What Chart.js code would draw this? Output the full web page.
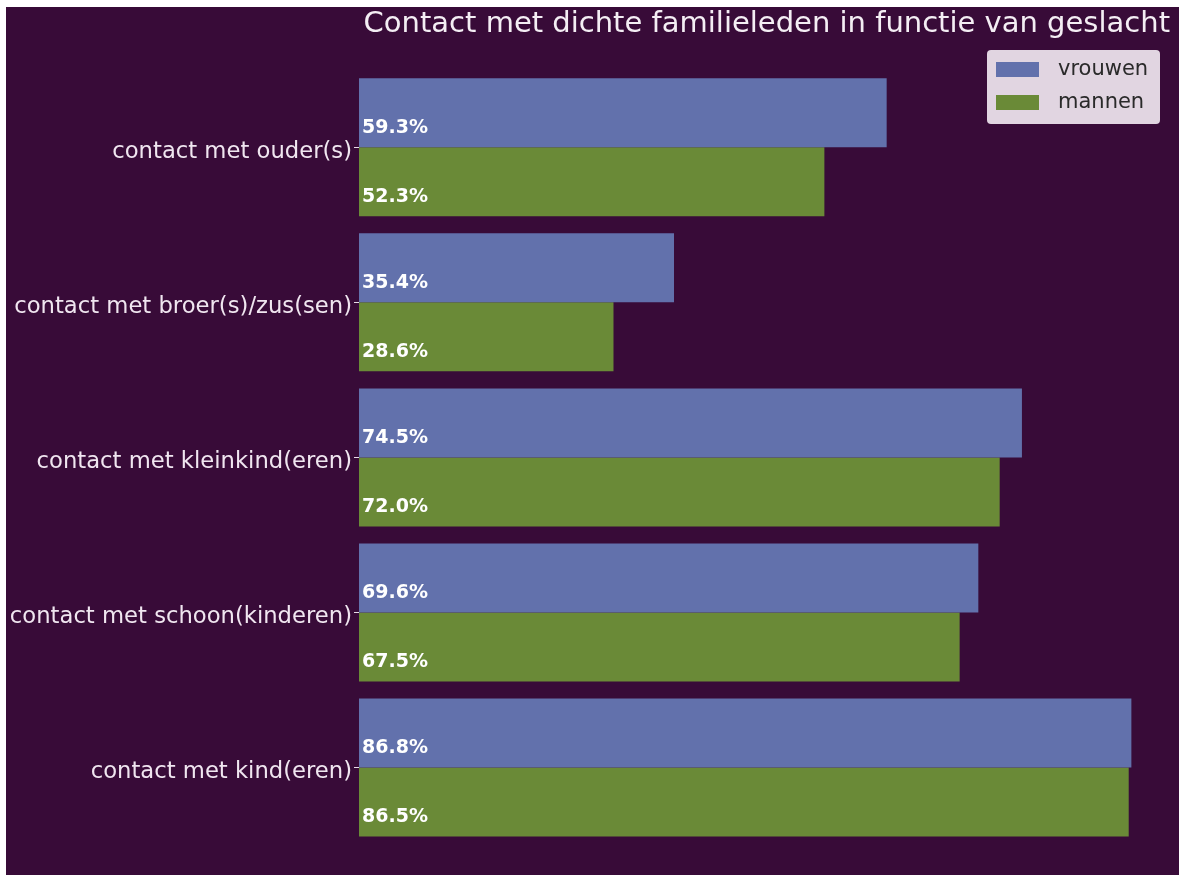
<!DOCTYPE html>
<html>
<head>
<meta charset="utf-8">
<script src="https://cdn.jsdelivr.net/npm/chart.js@4.4.1/dist/chart.umd.min.js"></script>
<style>
    html, body { margin: 0; padding: 0; background: #ffffff; }
    #wrap { position: absolute; left: 6px; top: 7px; width: 1173px; height: 868px; background: rgb(56, 11, 56); }
</style>
</head>
<body>
<div id="wrap"><canvas id="chart" width="1173" height="868"></canvas></div>
<script>
const categories = [
    'contact met ouder(s)',
    'contact met broer(s)/zus(sen)',
    'contact met kleinkind(eren)',
    'contact met schoon(kinderen)',
    'contact met kind(eren)'
];
const seriesNames = ['vrouwen', 'mannen'];
const vrouwen = [59.3, 35.4, 74.5, 69.6, 86.8];
const mannen = [52.3, 28.6, 72.0, 67.5, 86.5];
const seriesColors = ['rgb(98, 113, 172)', 'rgb(106, 138, 55)'];

const FONT = "'DejaVu Sans', sans-serif";

// percentages written at the left end of each bar
const valueLabels = {
    id: 'valueLabels',
    afterDatasetsDraw(chart)
    {
        const ctx = chart.ctx;
        ctx.save();
        ctx.font = 'bold 19px ' + FONT;
        ctx.fillStyle = '#ffffff';
        ctx.textAlign = 'left';
        ctx.textBaseline = 'middle';
        chart.data.datasets.forEach((ds, i) =>
        {
            chart.getDatasetMeta(i).data.forEach((bar, j) =>
            {
                ctx.fillText(ds.data[j].toFixed(1) + '%', bar.base + 3, bar.y + 15);
            });
        });
        ctx.restore();
    }
};

// matplotlib style legend box in the upper right corner
const boxLegend = {
    id: 'boxLegend',
    afterDraw(chart)
    {
        const ctx = chart.ctx;
        const x = 981, y = 43, w = 173, h = 74;
        ctx.save();
        ctx.fillStyle = 'rgba(232, 222, 232, 0.96)';
        ctx.beginPath();
        ctx.roundRect(x, y, w, h, 4);
        ctx.fill();
        ctx.font = '21px ' + FONT;
        ctx.textBaseline = 'middle';
        chart.data.datasets.forEach((ds, i) =>
        {
            const rowY = y + 19 + i * 33;
            ctx.fillStyle = ds.backgroundColor;
            ctx.fillRect(x + 9, rowY - 7, 43, 15);
            ctx.fillStyle = '#2a2a2a';
            ctx.fillText(ds.label, x + 71, rowY + 1);
        });
        ctx.restore();
    }
};

new Chart(document.getElementById('chart'), {
    type: 'bar',
    data: {
        labels: categories,
        datasets: [
            { label: seriesNames[0], data: vrouwen, backgroundColor: seriesColors[0] },
            { label: seriesNames[1], data: mannen, backgroundColor: seriesColors[1] }
        ]
    },
    options: {
        indexAxis: 'y',
        responsive: false,
        animation: false,
        datasets: {
            bar: { categoryPercentage: 0.89, barPercentage: 1.0 }
        },
        layout: { padding: { left: 0, right: 9, top: 0, bottom: 30 } },
        plugins: {
            legend: { display: false },
            tooltip: { enabled: false },
            title: {
                display: true,
                text: 'Contact met dichte familieleden in functie van geslacht',
                align: 'end',
                color: '#f4eef4',
                font: { family: FONT, size: 29, weight: 'normal' },
                padding: { top: 0, bottom: 28 }
            }
        },
        scales: {
            x: {
                display: false,
                min: 0,
                max: Math.max(...vrouwen, ...mannen) * 1.05
            },
            y: {
                afterFit: scale => { scale.width = 353; },
                border: { display: false },
                grid: {
                    offset: false,
                    drawOnChartArea: false,
                    drawTicks: true,
                    tickLength: 5,
                    color: '#e8dce8'
                },
                ticks: {
                    color: '#f0e6f0',
                    padding: 2,
                    labelOffset: 5,
                    font: { family: FONT, size: 22.7 }
                }
            }
        }
    },
    plugins: [valueLabels, boxLegend]
});
</script>
</body>
</html>
